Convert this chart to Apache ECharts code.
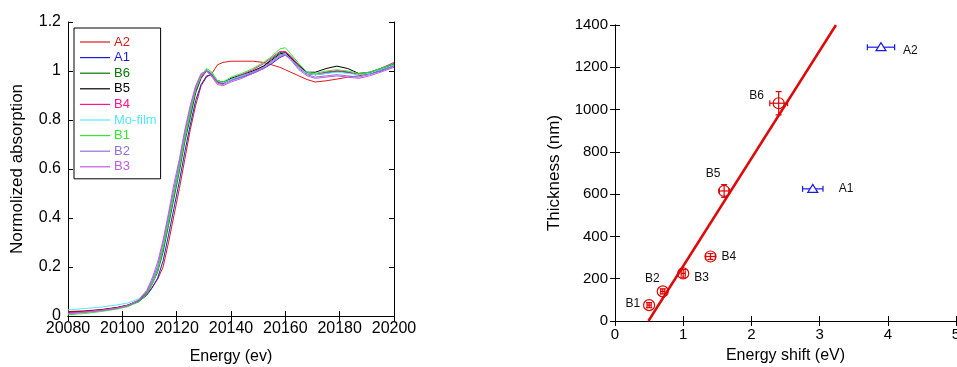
<!DOCTYPE html>
<html>
<head>
<meta charset="utf-8">
<script src="https://cdn.jsdelivr.net/npm/echarts@6/dist/echarts.min.js"></script>
<style>
  html, body { margin: 0; padding: 0; background: #fff; }
  #main { width: 957px; height: 367px; }
</style>
</head>
<body>
<div id="main"></div>
<script>
// XANES spectra (left panel)
const energy = [20080, 20086, 20092, 20098, 20102, 20106, 20109, 20111, 20113, 20115, 20117, 20119, 20121, 20123, 20125, 20127, 20129, 20131, 20133, 20135, 20137, 20140, 20144, 20148, 20152, 20155, 20158, 20160, 20162, 20165, 20168, 20171, 20175, 20179, 20183, 20187, 20191, 20195, 20200];

const specA2 = [0.018, 0.021, 0.026, 0.035, 0.045, 0.062, 0.088, 0.118, 0.15, 0.2, 0.3, 0.41, 0.52, 0.64, 0.76, 0.86, 0.94, 0.975, 0.99, 1.025, 1.035, 1.04, 1.04, 1.04, 1.035, 1.025, 1.015, 1.005, 0.995, 0.98, 0.965, 0.955, 0.96, 0.967, 0.975, 0.98, 0.99, 1.0, 1.03];
const specA1 = [0.012, 0.017, 0.023, 0.032, 0.042, 0.058, 0.085, 0.115, 0.155, 0.225, 0.33, 0.44, 0.55, 0.67, 0.78, 0.88, 0.945, 0.98, 0.985, 0.96, 0.955, 0.965, 0.975, 0.99, 1.01, 1.03, 1.055, 1.065, 1.05, 1.015, 0.99, 0.985, 0.99, 1.0, 0.995, 0.985, 0.99, 1.0, 1.02];
const specB6 = [0.012, 0.017, 0.023, 0.032, 0.042, 0.06, 0.092, 0.13, 0.18, 0.26, 0.37, 0.48, 0.59, 0.71, 0.81, 0.91, 0.97, 1.0, 0.99, 0.96, 0.955, 0.965, 0.98, 0.995, 1.02, 1.05, 1.075, 1.08, 1.06, 1.025, 0.99, 0.985, 0.995, 1.0, 0.995, 0.985, 0.99, 1.005, 1.025];
const specB5 = [0.015, 0.019, 0.025, 0.034, 0.044, 0.064, 0.098, 0.138, 0.19, 0.28, 0.39, 0.5, 0.61, 0.73, 0.83, 0.92, 0.975, 1.005, 0.985, 0.955, 0.948, 0.97, 0.985, 1.0, 1.02, 1.045, 1.07, 1.075, 1.055, 1.02, 0.995, 0.995, 1.01, 1.02, 1.01, 0.99, 0.995, 1.01, 1.03];
const specB4 = [0.013, 0.018, 0.024, 0.033, 0.043, 0.062, 0.096, 0.135, 0.19, 0.28, 0.39, 0.5, 0.61, 0.73, 0.83, 0.92, 0.975, 1.0, 0.985, 0.955, 0.95, 0.965, 0.985, 1.005, 1.03, 1.055, 1.08, 1.08, 1.06, 1.02, 0.99, 0.985, 0.995, 1.0, 0.995, 0.985, 0.99, 1.01, 1.035];
const specMo = [0.025, 0.03, 0.036, 0.045, 0.053, 0.07, 0.1, 0.14, 0.2, 0.29, 0.4, 0.51, 0.62, 0.74, 0.84, 0.93, 0.98, 1.005, 0.99, 0.96, 0.952, 0.965, 0.98, 0.995, 1.015, 1.04, 1.065, 1.07, 1.05, 1.015, 0.99, 0.985, 0.99, 0.995, 0.99, 0.985, 0.99, 1.005, 1.025];
const specB1 = [0.005, 0.01, 0.018, 0.028, 0.038, 0.058, 0.09, 0.13, 0.185, 0.275, 0.385, 0.495, 0.605, 0.725, 0.83, 0.925, 0.98, 1.01, 0.995, 0.96, 0.955, 0.975, 0.99, 1.01, 1.035, 1.06, 1.09, 1.095, 1.07, 1.03, 0.995, 0.99, 1.0, 1.005, 1.0, 0.99, 0.995, 1.01, 1.03];
const specB2 = [0.01, 0.015, 0.022, 0.032, 0.043, 0.064, 0.1, 0.145, 0.205, 0.3, 0.41, 0.52, 0.63, 0.75, 0.85, 0.935, 0.985, 1.0, 0.98, 0.95, 0.945, 0.96, 0.975, 0.995, 1.015, 1.04, 1.065, 1.07, 1.05, 1.01, 0.985, 0.975, 0.98, 0.985, 0.98, 0.975, 0.985, 1.0, 1.02];
const specB3 = [0.01, 0.015, 0.022, 0.031, 0.042, 0.065, 0.105, 0.155, 0.22, 0.31, 0.42, 0.54, 0.64, 0.76, 0.86, 0.94, 0.99, 1.0, 0.975, 0.945, 0.94, 0.955, 0.97, 0.99, 1.01, 1.035, 1.06, 1.065, 1.045, 1.005, 0.98, 0.97, 0.975, 0.98, 0.975, 0.97, 0.98, 0.995, 1.015];

const spectra = [
  { name: 'A2', data: specA2, color: '#e01818' },
  { name: 'A1', data: specA1, color: '#1c1cdc' },
  { name: 'B6', data: specB6, color: '#007800' },
  { name: 'B5', data: specB5, color: '#000000' },
  { name: 'B4', data: specB4, color: '#ff1493' },
  { name: 'Mo-film', data: specMo, color: '#55e6ff' },
  { name: 'B1', data: specB1, color: '#2eea2e' },
  { name: 'B2', data: specB2, color: '#9370db' },
  { name: 'B3', data: specB3, color: '#c05ce0' },
];

// Thickness vs energy shift (right panel)
const pointNames = ['B1', 'B2', 'B3', 'B4', 'B5', 'B6', 'A1', 'A2'];
const shift = [0.5, 0.7, 1.0, 1.4, 1.6, 2.4, 2.9, 3.9];
const thickness = [75, 140, 225, 305, 615, 1030, 625, 1295];
const shiftErr = [0.03, 0.03, 0.03, 0.07, 0.07, 0.13, 0.15, 0.2];
const thickErr = [12, 12, 18, 14, 30, 55, 0, 0];
const fitX = [0.49, 3.24];
const fitY = [0, 1400];

const labelPos = {
  B1: [-9, -1, 'right'],
  B2: [-3, -13, 'right'],
  B3: [11, 4, 'left'],
  B4: [11, 0, 'left'],
  B5: [-11, -17, 'center'],
  B6: [-22, -8, 'center'],
  A1: [26, 0, 'left'],
  A2: [22, 3, 'left'],
};

const FONT = 'Liberation Sans, Arial, sans-serif';
const axisLine = { show: true, lineStyle: { color: '#000', width: 1 } };
const tick = { show: true, inside: true, length: 5, lineStyle: { color: '#000' } };
const plain = (v) => String(v);

function mirror(base, pos) {
  return Object.assign({}, base, {
    position: pos, name: '', axisLabel: { show: false },
  });
}

const leftX = {
  type: 'value', gridIndex: 0, min: 20080, max: 20200, interval: 20,
  axisLine, axisTick: tick, splitLine: { show: false },
  axisLabel: { color: '#000', fontSize: 16, fontFamily: FONT, margin: 5, formatter: plain },
  name: 'Energy (ev)', nameLocation: 'middle', nameGap: 33,
  nameTextStyle: { color: '#000', fontSize: 16, fontFamily: FONT },
};
const leftY = {
  type: 'value', gridIndex: 0, min: 0, max: 1.2, interval: 0.2,
  axisLine, axisTick: tick, splitLine: { show: false },
  axisLabel: { color: '#000', fontSize: 16, fontFamily: FONT, margin: 7 },
  name: 'Normolized absorption', nameLocation: 'middle', nameGap: 42,
  nameTextStyle: { color: '#000', fontSize: 17, fontFamily: FONT },
};
const rightX = {
  type: 'value', gridIndex: 1, min: 0, max: 5, interval: 1,
  axisLine, axisTick: tick, splitLine: { show: false },
  axisLabel: { color: '#000', fontSize: 15, fontFamily: FONT, margin: 6 },
  name: 'Energy shift (eV)', nameLocation: 'middle', nameGap: 27,
  nameTextStyle: { color: '#000', fontSize: 16, fontFamily: FONT },
};
const rightY = {
  type: 'value', gridIndex: 1, min: 0, max: 1400, interval: 200,
  axisLine, axisTick: tick, splitLine: { show: false },
  axisLabel: { color: '#000', fontSize: 15, fontFamily: FONT, margin: 7, formatter: plain },
  name: 'Thickness (nm)', nameLocation: 'middle', nameGap: 52,
  nameTextStyle: { color: '#000', fontSize: 17, fontFamily: FONT },
};

const series = spectra.map((s) => ({
  name: s.name,
  type: 'line',
  xAxisIndex: 0,
  yAxisIndex: 0,
  showSymbol: false,
  symbol: 'none',
  lineStyle: { width: 1, color: s.color },
  itemStyle: { color: s.color },
  data: energy.map((e, i) => [e, s.data[i]]),
}));

series.push({
  type: 'line',
  xAxisIndex: 2,
  yAxisIndex: 2,
  showSymbol: false,
  symbol: 'none',
  lineStyle: { width: 2.5, color: '#dd0a0a' },
  data: fitX.map((x, i) => [x, fitY[i]]),
  z: 3,
});

series.push({
  type: 'custom',
  xAxisIndex: 2,
  yAxisIndex: 2,
  z: 4,
  data: pointNames.map((n, i) => [shift[i], thickness[i], shiftErr[i], thickErr[i]]),
  renderItem: (params, api) => {
    const name = pointNames[params.dataIndex];
    const x = api.value(0), y = api.value(1), xe = api.value(2), ye = api.value(3);
    const c = api.coord([x, y]);
    const isA = name[0] === 'A';
    const color = isA ? '#1818e8' : '#e00000';
    const st = { stroke: color, lineWidth: 1.2, fill: null };
    const kids = [];
    const l = api.coord([x - xe, y]);
    const r = api.coord([x + xe, y]);
    kids.push({ type: 'line', shape: { x1: l[0], y1: c[1], x2: r[0], y2: c[1] }, style: st });
    kids.push({ type: 'line', shape: { x1: l[0], y1: c[1] - 3, x2: l[0], y2: c[1] + 3 }, style: st });
    kids.push({ type: 'line', shape: { x1: r[0], y1: c[1] - 3, x2: r[0], y2: c[1] + 3 }, style: st });
    if (ye > 0) {
      const t = api.coord([x, y + ye]);
      const b = api.coord([x, y - ye]);
      kids.push({ type: 'line', shape: { x1: c[0], y1: t[1], x2: c[0], y2: b[1] }, style: st });
      kids.push({ type: 'line', shape: { x1: c[0] - 3, y1: t[1], x2: c[0] + 3, y2: t[1] }, style: st });
      kids.push({ type: 'line', shape: { x1: c[0] - 3, y1: b[1], x2: c[0] + 3, y2: b[1] }, style: st });
    }
    if (isA) {
      kids.push({
        type: 'polygon',
        shape: { points: [[c[0] - 5, c[1] + 3.5], [c[0] + 5, c[1] + 3.5], [c[0], c[1] - 4.5]] },
        style: { stroke: color, lineWidth: 1.2, fill: '#fff' },
      });
    } else {
      kids.push({ type: 'circle', shape: { cx: c[0], cy: c[1], r: 5.5 }, style: st });
    }
    const lp = labelPos[name];
    kids.push({
      type: 'text',
      style: {
        text: name, x: c[0] + lp[0], y: c[1] + lp[1],
        align: lp[2], verticalAlign: 'middle',
        fill: '#111', font: '12px ' + FONT,
      },
    });
    return { type: 'group', children: kids };
  },
});

const chart = echarts.init(document.getElementById('main'));
chart.setOption({
  animation: false,
  backgroundColor: '#fff',
  grid: [
    { left: 68, top: 22, width: 326, height: 294, outerBoundsMode: 'none' },
    { left: 615, top: 25, width: 341, height: 296, outerBoundsMode: 'none' },
  ],
  legend: {
    orient: 'vertical',
    left: 74,
    top: 28,
    padding: [7, 4, 5, 6],
    icon: 'rect',
    itemWidth: 30,
    itemHeight: 1.2,
    itemGap: 1.6,
    borderColor: '#000',
    borderWidth: 1,
    borderRadius: 0,
    backgroundColor: '#fff',
    selectedMode: false,
    textStyle: { fontSize: 13, lineHeight: 14, fontFamily: FONT, padding: [0, 0, 0, -1] },
    data: spectra.map((s) => ({ name: s.name, textStyle: { color: s.color } })),
  },
  xAxis: [leftX, mirror(leftX, 'top'), rightX, mirror(rightX, 'top')],
  yAxis: [leftY, mirror(leftY, 'right'), rightY, mirror(rightY, 'right')],
  series,
});
</script>
</body>
</html>
